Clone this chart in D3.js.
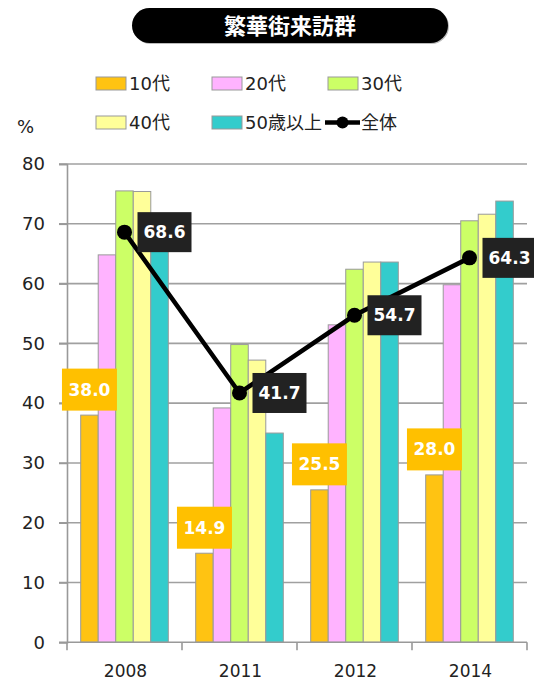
<!DOCTYPE html>
<html>
<head>
<meta charset="utf-8">
<script src="https://cdn.jsdelivr.net/npm/d3@7"></script>
<style>
  body { margin: 0; background: #fff; }
  text { font-family: "DejaVu Sans", Verdana, "Noto Sans CJK JP", sans-serif; }
</style>
</head>
<body>
<svg id="chart" width="534" height="682"></svg>
<script>
"use strict";

let years = ["2008", "2011", "2012", "2014"];
let seriesNames = ["10代", "20代", "30代", "40代", "50歳以上"];
let seriesColors = ["#FFC312", "#FFB3FF", "#CCFF66", "#FFFF99", "#33CCCC"];
let v10 = [38.0, 14.9, 25.5, 28.0];
let v20 = [64.8, 39.2, 53.1, 59.8];
let v30 = [75.5, 49.8, 62.4, 70.5];
let v40 = [75.4, 47.2, 63.6, 71.6];
let v50 = [68.0, 35.0, 63.6, 73.8];
let total = [68.6, 41.7, 54.7, 64.3];
let yTicks = [0, 10, 20, 30, 40, 50, 60, 70, 80];
let title = "繁華街来訪群";

let series = [v10, v20, v30, v40, v50];

function pageInit() {
  let svg = d3.select("#chart");

  // title pill
  svg.append("rect").attr("x", 133).attr("y", 9).attr("width", 316).attr("height", 35)
    .attr("rx", 17.5).attr("fill", "#bbb");
  svg.append("rect").attr("x", 132).attr("y", 8).attr("width", 316).attr("height", 35)
    .attr("rx", 17.5).attr("fill", "#000");
  svg.append("text").text(title)
    .attr("x", 290).attr("y", 33.5)
    .attr("text-anchor", "middle")
    .style("font-size", "22px").style("font-weight", "bold")
    .style("font-family", "'Noto Sans CJK JP', sans-serif")
    .attr("fill", "#fff");

  let x = d3.scaleBand().domain(years).range([67, 527]);
  let inner = d3.scaleBand().domain(d3.range(5)).range([13.7, x.bandwidth() - 13.7]);
  let y = d3.scaleLinear().domain([0, 80]).range([642.3, 164]);

  // gridlines
  svg.append("g").selectAll("line").data(yTicks.slice(1)).enter().append("line")
    .attr("x1", 59).attr("x2", 527)
    .attr("y1", d => y(d)).attr("y2", d => y(d))
    .attr("stroke", "#a0a0a0").attr("stroke-width", 1.6);

  // y axis
  let yAxis = svg.append("g").attr("transform", "translate(67,0)")
    .call(d3.axisLeft(y).tickValues(yTicks).tickSize(8).tickPadding(14));
  yAxis.select(".domain").attr("stroke", "#999").attr("stroke-width", 1.6);
  yAxis.selectAll(".tick line").attr("stroke", "#999").attr("stroke-width", 1.6);
  yAxis.selectAll(".tick text").style("font-size", "18px").attr("fill", "#222");

  svg.append("text").text("%").attr("x", 17).attr("y", 133)
    .style("font-size", "18px").attr("fill", "#222");

  // bars
  let groups = svg.append("g").selectAll("g").data(years).enter().append("g")
    .attr("transform", d => `translate(${x(d)},0)`);
  groups.selectAll("rect")
    .data((d, i) => series.map((s, k) => ({ k: k, v: s[i] })))
    .enter().append("rect")
    .attr("x", d => inner(d.k))
    .attr("width", inner.bandwidth())
    .attr("y", d => y(d.v))
    .attr("height", d => y(0) - y(d.v))
    .attr("fill", d => seriesColors[d.k])
    .attr("stroke", "#9a9a9a").attr("stroke-width", 1);

  // x axis
  let xAxis = svg.append("g").attr("transform", "translate(0,642.3)");
  xAxis.append("line").attr("x1", 59).attr("x2", 527).attr("stroke", "#999").attr("stroke-width", 1.6);
  xAxis.selectAll(".tk").data(d3.range(years.length + 1)).enter().append("line")
    .attr("x1", i => 67 + i * x.step()).attr("x2", i => 67 + i * x.step())
    .attr("y1", 0).attr("y2", 8)
    .attr("stroke", "#999").attr("stroke-width", 1.6);
  xAxis.selectAll("text").data(years).enter().append("text")
    .text(d => d)
    .attr("x", d => x(d) + x.bandwidth() / 2 + 1)
    .attr("y", 35)
    .attr("text-anchor", "middle")
    .style("font-size", "17px").attr("fill", "#222");

  // labels on 10代
  let orangeLabels = svg.append("g").selectAll("g").data(years).enter().append("g")
    .attr("transform", (d, i) => `translate(${x(d) + inner(0) + inner.bandwidth() / 2},${y(v10[i]) - 4.5})`);
  orangeLabels.append("rect").attr("x", -27.5).attr("y", -42).attr("width", 55).attr("height", 42)
    .attr("fill", "#FFC000");
  orangeLabels.append("text").text((d, i) => v10[i].toFixed(1))
    .attr("x", 0).attr("y", -15).attr("text-anchor", "middle")
    .style("font-size", "17px").style("font-weight", "bold").attr("fill", "#fff");

  // 全体 line
  let cx = d => x(d) + inner(2) + inner.bandwidth() / 2;
  let line = d3.line().x(d => cx(d.year)).y(d => y(d.v));
  let pts = years.map((yr, i) => ({ year: yr, v: total[i] }));
  svg.append("path").datum(pts).attr("d", line)
    .attr("fill", "none").attr("stroke", "#000").attr("stroke-width", 4.5);
  svg.append("g").selectAll("circle").data(pts).enter().append("circle")
    .attr("cx", d => cx(d.year)).attr("cy", d => y(d.v)).attr("r", 7.5).attr("fill", "#000");

  let totalLabels = svg.append("g").selectAll("g").data(pts).enter().append("g")
    .attr("transform", d => `translate(${cx(d.year) + 13},${y(d.v)})`);
  totalLabels.append("rect").attr("x", 0).attr("y", -20).attr("width", 54).attr("height", 40)
    .attr("fill", "#222");
  totalLabels.append("text").text(d => d.v.toFixed(1))
    .attr("x", 27).attr("y", 6).attr("text-anchor", "middle")
    .style("font-size", "17px").style("font-weight", "bold").attr("fill", "#fff");

  // legend
  let legendItems = [
    { k: 0, x: 96, y: 77 }, { k: 1, x: 212, y: 77 }, { k: 2, x: 328, y: 77 },
    { k: 3, x: 96, y: 116 }, { k: 4, x: 212, y: 116 }
  ];
  let lg = svg.append("g").selectAll("g").data(legendItems).enter().append("g")
    .attr("transform", d => `translate(${d.x},${d.y})`);
  lg.append("rect").attr("width", 30).attr("height", 13)
    .attr("fill", d => seriesColors[d.k]).attr("stroke", "#999").attr("stroke-width", 1);
  lg.append("text").text(d => seriesNames[d.k])
    .attr("x", 33).attr("y", 13)
    .style("font-size", "18px").attr("fill", "#222");

  let ll = svg.append("g").attr("transform", "translate(325,122.5)");
  ll.append("line").attr("x1", 0).attr("x2", 35).attr("stroke", "#000").attr("stroke-width", 4.5);
  ll.append("circle").attr("cx", 17.5).attr("r", 6).attr("fill", "#000");
  svg.append("text").text("全体").attr("x", 361).attr("y", 129)
    .style("font-size", "18px").attr("fill", "#222");
}

pageInit();
</script>
</body>
</html>
